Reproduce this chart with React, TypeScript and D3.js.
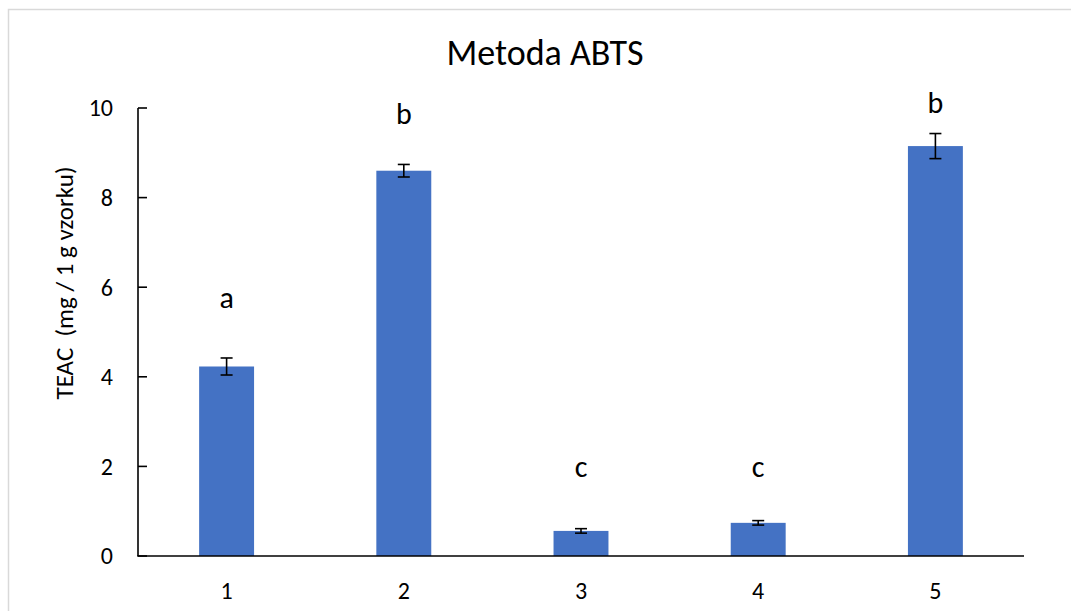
import React from "react";
import * as d3 from "d3";

const categories = ["1", "2", "3", "4", "5"];
const values = [4.23, 8.6, 0.56, 0.74, 9.15];
const errors = [0.19, 0.14, 0.05, 0.05, 0.28];
const letters = ["a", "b", "c", "c", "b"];
const letterValues = [5.54, 9.64, 1.77, 1.77, 9.89];
const yTicks = [0, 2, 4, 6, 8, 10];
const title = "Metoda ABTS";
const yTitle = "TEAC \u00a0(mg / 1 g vzorku)";

const W = 1071;
const H = 611;
const FONT = "Carlito, Calibri, 'Liberation Sans', Arial, sans-serif";

export default function App() {
  const x = d3.scaleBand<string>().domain(categories).range([138, 1024]).paddingInner(0.69).paddingOuter(0.345);
  const y = d3.scaleLinear().domain([0, 10]).range([556, 108]);
  const bw = x.bandwidth();
  const cap = 6;

  return (
    <svg width={W} height={H} style={{ position: "absolute", left: 0, top: 0 }} fontFamily={FONT}>
      <rect x={0} y={0} width={W} height={H} fill="#fff" />
      <rect x={8.5} y={9.5} width={1200} height={800} fill="none" stroke="#d9d9d9" strokeWidth={1.5} />
      <text x={545} y={65} fontSize={36} textAnchor="middle" fill="#000">{title}</text>
      {categories.map((c, i) => {
        const cx = (x(c) as number) + bw / 2;
        return (
          <g key={c}>
            <rect x={x(c)} y={y(values[i])} width={bw} height={y(0) - y(values[i])} fill="#4472C4" />
            <line x1={cx} x2={cx} y1={y(values[i] + errors[i])} y2={y(values[i] - errors[i])} stroke="#000" strokeWidth={1.6} />
            <line x1={cx - cap} x2={cx + cap} y1={y(values[i] + errors[i])} y2={y(values[i] + errors[i])} stroke="#000" strokeWidth={1.6} />
            <line x1={cx - cap} x2={cx + cap} y1={y(values[i] - errors[i])} y2={y(values[i] - errors[i])} stroke="#000" strokeWidth={1.6} />
            <text x={cx} y={y(letterValues[i])} fontSize={30} textAnchor="middle" fill="#000">{letters[i]}</text>
            <text x={cx} y={591} dy="0.35em" fontSize={24} textAnchor="middle" fill="#000">{c}</text>
          </g>
        );
      })}
      {yTicks.map((t) => (
        <g key={t}>
          <line x1={138} x2={147} y1={y(t)} y2={y(t)} stroke="#000" strokeWidth={1.6} />
          <text x={113} y={y(t)} dy="0.35em" fontSize={24} textAnchor="end" fill="#000">{t}</text>
        </g>
      ))}
      <line x1={138} x2={138} y1={y(10)} y2={y(0)} stroke="#000" strokeWidth={1.6} />
      <line x1={137.2} x2={1024} y1={y(0)} y2={y(0)} stroke="#000" strokeWidth={1.6} />
      <text transform={`translate(73,283) rotate(-90)`} fontSize={25} textAnchor="middle" fill="#000">{yTitle}</text>
    </svg>
  );
}
